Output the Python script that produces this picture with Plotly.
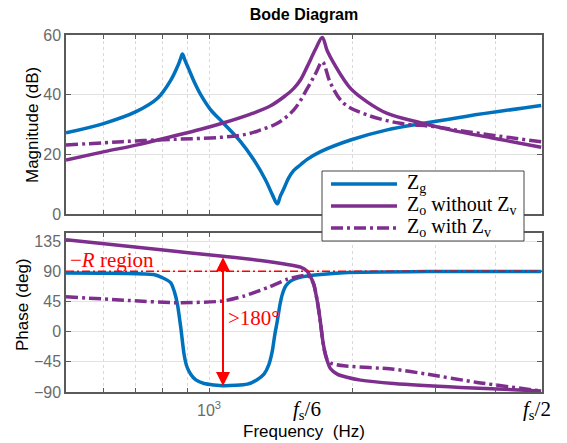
import numpy as np
import plotly.graph_objects as go

# ---------------- data ----------------
# Magnitude, Z_g
zg_mag_f = [500, 602, 702, 779, 831, 858, 870, 879, 890, 908, 930, 961, 1008, 1070, 1166, 1243,
            1315, 1359, 1392, 1412, 1438, 1470, 1508, 1560, 1609, 1717, 1985, 2371, 2830, 3491, 5000]
zg_mag_db = [27.2, 30.4, 34.3, 38.8, 44.9, 49.4, 51.8, 53.6, 51.5, 48.3, 44.4, 39.9, 34.9, 30.6, 24.2, 18.1,
             11.4, 6.5, 3.4, 5.9, 8.6, 12.0, 14.6, 16.6, 18.3, 20.9, 24.8, 28.2, 30.4, 32.8, 36.4]
# Magnitude, Z_o without Z_v
zo_mag_f = [500, 602, 702, 831, 961, 1070, 1223, 1348, 1438, 1508, 1558, 1609, 1676, 1731, 1773,
            1831, 1985, 2151, 2371, 2785, 3220, 3969, 5000]
zo_mag_db = [18.1, 20.9, 23.1, 25.9, 28.4, 30.5, 33.5, 36.3, 39.3, 42.1, 45.0, 49.4, 55.3, 59.2, 54.7,
             50.5, 42.1, 37.6, 33.7, 30.6, 28.2, 25.4, 22.4]
# Magnitude, Z_o with Z_v
zv_mag_f = [500, 602, 702, 831, 1058, 1204, 1284, 1392, 1508, 1609, 1676, 1731, 1802, 1921, 2151,
            2527, 2970, 3491, 5000]
zv_mag_db = [23.1, 23.9, 24.5, 25.0, 25.7, 26.8, 28.2, 30.4, 34.9, 42.0, 47.1, 51.0, 43.8, 37.1, 33.2,
             30.4, 29.3, 27.6, 24.2]

# Phase, Z_g
zg_ph_f = [500, 765, 800, 831, 845, 858, 872, 886, 898, 915, 938, 976, 1075, 1204, 1260, 1305, 1335,
           1359, 1375, 1392, 1410, 1426, 1450, 1484, 1540, 1609, 1921, 2877, 5000]
zg_ph_deg = [87.5, 85, 80, 72.8, 60, 40.7, 6, -33.7, -52, -63.4, -72, -77.3, -80.7, -78.3, -72, -63.4, -50,
             -28.7, -5, 15.9, 40, 55.4, 68, 75.3, 80, 82.8, 87.7, 89.5, 89.5]
# Phase, Z_o without Z_v
zo_ph_f = [500, 792, 1070, 1284, 1461, 1558, 1609, 1635, 1662, 1690, 1703, 1717, 1731, 1750, 1773,
           1800, 1861, 1950, 2084, 2447, 3380, 5000]
zo_ph_deg = [137, 122, 112.3, 106, 100, 96, 90, 82, 70, 45, 30.8, 12, -8.9, -28, -43.5,
             -55, -63.4, -68, -72.3, -77.3, -83.2, -88.5]
# Phase, Z_o with Z_v
zv_ph_f = [500, 674, 858, 1070, 1184, 1326, 1461, 1609, 1635, 1662, 1690, 1717, 1745, 1773, 1802,
           1921, 2447, 2877, 3664, 5000]
zv_ph_deg = [52, 46.5, 43, 45.6, 53, 65.4, 78, 84, 80, 70, 45, 12, -25, -42, -47,
             -51, -56, -63.4, -75.7, -88.5]

series_names = ["Z<sub>g</sub>", "Z<sub>o</sub> without Z<sub>v</sub>", "Z<sub>o</sub> with Z<sub>v</sub>"]

# markers / annotations
f_lo, f_hi = 500, 5020
fs6 = 1610          # position of f_s/6 marker
fs2 = 4900          # position of f_s/2 label
f_arrow = 1070      # red arrow frequency
ref_phase = 90      # -R region boundary
mag_ticks = [0, 20, 40, 60]
ph_ticks = [-90, -45, 0, 45, 90, 135]
minor_f = [600, 700, 800, 900, 1000, 2000, 3000, 4000]

BLUE = "#0072BD"
PURPLE = "#7E2F8E"
RED = "#FF0000"
AX = "#5a5a5a"
TICKC = "#6a6a6a"
SERIF = "Liberation Serif"
SANS = "Liberation Sans"

W, H = 567, 443
L, R, T, B = 66, 25, 35, 51
ph = H - T - B
pw = W - L - R
mag_bot = (392 - 214) / ph
ph_top = (392 - 233) / ph


def px(xp):
    return (xp - L) / pw


def py(yp):
    return (392 - yp) / ph


fig = go.Figure()
lw = 3.5
dashdot = "12px,4px,3px,4px"
sp_mag = dict(shape="spline", smoothing=1.0)
sp_ph = dict(shape="spline", smoothing=0.6)
colors = [BLUE, PURPLE, PURPLE]
dashes = ["solid", "solid", dashdot]

mags = [(zg_mag_f, zg_mag_db), (zo_mag_f, zo_mag_db), (zv_mag_f, zv_mag_db)]
phs = [(zg_ph_f, zg_ph_deg), (zo_ph_f, zo_ph_deg), (zv_ph_f, zv_ph_deg)]
for (f, v), c, d, n in zip(mags, colors, dashes, series_names):
    fig.add_trace(go.Scatter(x=f, y=v, mode="lines", name=n, showlegend=False,
                             line=dict(color=c, width=lw, dash=d, **sp_mag), xaxis="x", yaxis="y"))
for (f, v), c, d, n in zip(phs, colors, dashes, series_names):
    fig.add_trace(go.Scatter(x=f, y=v, mode="lines", name=n, showlegend=False,
                             line=dict(color=c, width=lw, dash=d, **sp_ph), xaxis="x2", yaxis="y2"))
fig.add_trace(go.Scatter(x=[f_lo, f_hi], y=[ref_phase, ref_phase], mode="lines", showlegend=False,
                         line=dict(color=RED, width=1.5, dash="8px,3px,2px,3px"), xaxis="x2", yaxis="y2"))

xcommon = dict(type="log", range=[np.log10(f_lo), np.log10(f_hi)], showline=True, linecolor=AX,
               linewidth=1.5, mirror="ticks", ticks="inside", ticklen=4, tickcolor=AX,
               tickvals=minor_f, showticklabels=False, showgrid=True, automargin=False,
               gridcolor="#d9d9d9", griddash="dot", gridwidth=1, zeroline=False)
ycommon = dict(showline=True, linecolor=AX, linewidth=1.5, mirror="ticks", ticks="inside",
               ticklen=5, tickcolor=AX, showgrid=True, gridcolor="#e2e2e2", gridwidth=1,
               zeroline=False, automargin=False, tickfont=dict(family=SANS, size=16, color=TICKC))

fig.update_layout(
    width=W, height=H, margin=dict(l=L, r=R, t=T, b=B, autoexpand=False),
    paper_bgcolor="white", plot_bgcolor="white",
    xaxis=dict(domain=[0, 1], anchor="y", matches="x2", **xcommon),
    yaxis=dict(domain=[mag_bot, 1], anchor="x", range=[0, 60], tickvals=mag_ticks, **ycommon),
    xaxis2=dict(domain=[0, 1], anchor="y2", **xcommon),
    yaxis2=dict(domain=[0, ph_top], anchor="x2", range=[-90, 147], tickvals=ph_ticks, **ycommon),
    title=dict(text="<b>Bode Diagram</b>", x=0.5, xref="paper", xanchor="center",
               y=1 - 14 / H, yref="container", yanchor="middle",
               font=dict(family=SANS, size=16, color="black")),
    showlegend=False,
)

shapes = []
for xr, yr in (("x", "y domain"), ("x2", "y2 domain")):
    shapes.append(dict(type="line", xref=xr, yref=yr, x0=3, x1=3, y0=0, y1=1,
                       line=dict(color="#dcdcdc", width=1.2), layer="below"))
shapes.append(dict(type="line", xref="x", yref="paper", x0=np.log10(fs6), x1=np.log10(fs6),
                   y0=0, y1=1, line=dict(color="black", width=2, dash="2px,2px")))
shapes.append(dict(type="line", xref="x", yref="paper", x0=np.log10(f_arrow), x1=np.log10(f_arrow),
                   y0=py(257), y1=py(91), line=dict(color=RED, width=2, dash="2px,2px")))
# legend box
shapes.append(dict(type="rect", xref="paper", yref="paper", x0=px(322), x1=px(524), y0=py(241), y1=py(171),
                   line=dict(color="#444", width=1), fillcolor="white"))
leg_y = [184, 206, 228]
for yy, c, d in zip(leg_y, colors, dashes):
    shapes.append(dict(type="line", xref="paper", yref="paper", x0=px(331), x1=px(397), y0=py(yy), y1=py(yy),
                       line=dict(color=c, width=lw, dash=d)))
fig.update_layout(shapes=shapes)

ann = []
for yy, n in zip(leg_y, series_names):
    ann.append(dict(xref="paper", yref="paper", x=px(405), y=py(yy - 1), xanchor="left", yanchor="middle",
                    text=n, showarrow=False, font=dict(family=SERIF, size=20, color="black")))
ann.append(dict(xref="x2", yref="y2", axref="x2", ayref="y2",
                x=np.log10(f_arrow), y=-81, ax=np.log10(f_arrow), ay=113, text="",
                showarrow=True, arrowhead=2, startarrowhead=2, arrowside="end+start",
                arrowwidth=2, arrowsize=1.4, startarrowsize=1.4, arrowcolor=RED, standoff=0, startstandoff=0))
ann.append(dict(xref="paper", yref="y2", x=px(68), y=107, xanchor="left", yanchor="middle",
                text="\u2212<i>R</i> region", showarrow=False, font=dict(family=SERIF, size=21, color=RED)))
ann.append(dict(xref="x2", yref="y2", x=np.log10(1088), y=21, xanchor="left", yanchor="middle",
                text=">180°", showarrow=False, font=dict(family=SERIF, size=21, color=RED)))
ann.append(dict(xref="x2", yref="paper", x=3, y=py(409), xanchor="center", yanchor="middle",
                text="10<sup>3</sup>", showarrow=False, font=dict(family=SANS, size=16, color=TICKC)))
for fv, lab in ((fs6, "<i>f</i><sub>s</sub>/6"), (fs2, "<i>f</i><sub>s</sub>/2")):
    ann.append(dict(xref="x2", yref="paper", x=np.log10(fv), y=py(410), xanchor="center",
                    yanchor="middle", text=lab, showarrow=False,
                    font=dict(family=SERIF, size=21, color="black")))
ann.append(dict(xref="paper", yref="paper", x=0.5, y=py(431), xanchor="center", yanchor="middle",
                text="Frequency  (Hz)", showarrow=False, font=dict(family=SANS, size=17, color="black")))
ann.append(dict(xref="paper", yref="paper", x=px(32), y=py(125), xanchor="center",
                yanchor="middle", textangle=-90, text="Magnitude (dB)", showarrow=False,
                font=dict(family=SANS, size=17, color="black")))
ann.append(dict(xref="paper", yref="paper", x=px(22), y=py(305), xanchor="center",
                yanchor="middle", textangle=-90, text="Phase (deg)", showarrow=False,
                font=dict(family=SANS, size=17, color="black")))
fig.update_layout(annotations=ann)

fig.write_html("out.html", config={"displayModeBar": False},
               post_script="document.body.style.margin='0px';")
